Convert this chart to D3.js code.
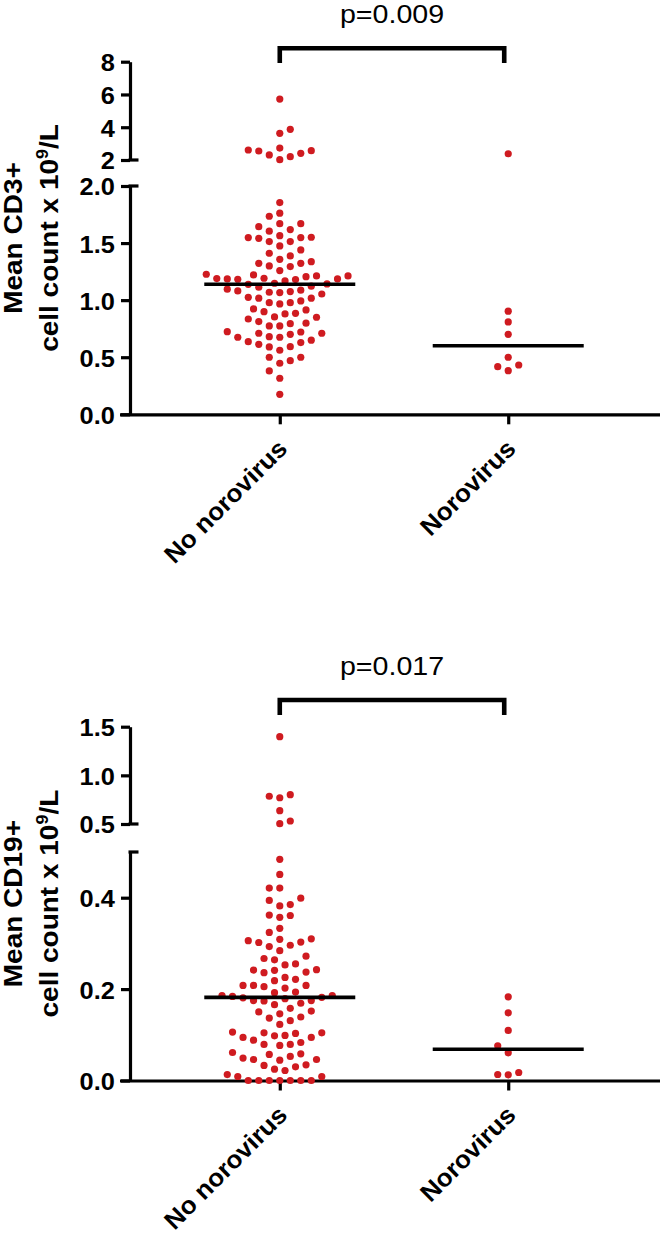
<!DOCTYPE html>
<html><head><meta charset="utf-8">
<script src="https://cdn.jsdelivr.net/npm/d3@7"></script>
<style>body{margin:0;background:#fff} svg{display:block}</style>
</head><body>
<script>
// ---------------- DATA ----------------
const categories = ["No norovirus", "Norovirus"];

// Mean CD3+ cell count x 10^9/L
const cd3NoNorovirus = [
  5.72, 3.63, 3.87, 2.61, 2.55, 2.31, 2.73, 2.02, 2.20, 2.41, 2.57,
  1.855, 1.735, 1.762, 1.670, 1.644, 1.670, 1.618, 1.565, 1.548, 1.542, 1.513, 1.513, 1.548, 1.551, 1.604,
  1.440, 1.411, 1.475, 1.387, 1.337, 1.323, 1.294, 1.300, 1.323, 1.358,
  1.259, 1.221, 1.212, 1.192, 1.186, 1.183, 1.180, 1.186, 1.189, 1.206,
  1.212, 1.227, 1.168, 1.148, 1.139, 1.113, 1.087, 1.075, 1.081, 1.096,
  1.122, 1.142, 1.066, 1.025, 1.017, 0.978, 0.978, 0.993, 1.017, 0.967,
  1.054, 1.069, 0.923, 0.899, 0.879, 0.885, 0.914, 0.850, 0.835, 0.798,
  0.774, 0.774, 0.794, 0.812, 0.853, 0.721, 0.710, 0.680, 0.675, 0.675,
  0.701, 0.710, 0.724, 0.636, 0.613, 0.590, 0.561, 0.592, 0.628, 0.649,
  0.500, 0.447, 0.470, 0.500, 0.380, 0.316, 0.175
];
const cd3Norovirus = [2.38, 0.903, 0.809, 0.701, 0.500, 0.432, 0.417, 0.382];

// Mean CD19+ cell count x 10^9/L
const cd19NoNorovirus = [
  1.397, 0.801, 0.770, 0.785, 0.637, 0.503, 0.531,
  0.484, 0.451, 0.421, 0.421, 0.394, 0.382, 0.385, 0.399, 0.361, 0.357, 0.362,
  0.324, 0.333, 0.309, 0.303, 0.296, 0.293, 0.302, 0.306, 0.310, 0.284,
  0.272, 0.264, 0.267, 0.253, 0.255,
  0.2417, 0.2373, 0.2359, 0.241, 0.2425, 0.2213, 0.2081, 0.2081, 0.2081, 0.2184, 0.2256,
  0.2023, 0.1921, 0.2052, 0.1935,
  0.179, 0.186, 0.175, 0.182, 0.169, 0.181, 0.184, 0.174, 0.186, 0.175,
  0.152, 0.146, 0.158, 0.166, 0.150, 0.1365, 0.131, 0.139, 0.1227,
  0.0978, 0.0942, 0.1044, 0.103, 0.1044, 0.0883, 0.1059, 0.0942, 0.0986,
  0.0832, 0.0789, 0.0767, 0.0789,
  0.0613, 0.057, 0.0445, 0.049, 0.046, 0.046, 0.0526, 0.0584,
  0.0329, 0.0248, 0.0219, 0.030, 0.0344,
  0.0088, 0.0, 0.0, 0.0, 0.0, 0.0, 0.0, 0.0, 0.0088, 0.013
];
const cd19Norovirus = [0.183, 0.148, 0.1095, 0.076, 0.0606, 0.0175, 0.0124, 0.0131];

const cd3PValue = "p=0.009";
const cd19PValue = "p=0.017";

const cd3UpperTicks = [2, 4, 6, 8];
const cd3LowerTicks = [0, 0.5, 1.0, 1.5, 2.0];
const cd19UpperTicks = [0.5, 1.0, 1.5];
const cd19LowerTicks = [0, 0.2, 0.4];

const cd3TitleMain = "Mean CD3+";
const cd19TitleMain = "Mean CD19+";
const titleUnitParts = ["cell count x 10", "9", "/L"];

// ---------------- LAYOUT / STYLE ----------------
const W = 664, H = 1234;
const RED = "#cf1b20";
const FONT = "'Liberation Sans', Arial, Helvetica, sans-serif";
const AXIS_X = 130, AXIS_END = 660;
const LW = 3.2;

const svg = d3.select("body").append("svg").attr("width", W).attr("height", H);

const panels = [
  {
    groups: [cd3NoNorovirus, cd3Norovirus], p: cd3PValue, title: cd3TitleMain,
    split: 2,
    lower: d3.scaleLinear().domain([0, 2]).range([414.3, 186]),
    upper: d3.scaleLinear().domain([2, 8]).range([160, 61.7]),
    lowerTicks: cd3LowerTicks, upperTicks: cd3UpperTicks,
    lowerFmt: d3.format(".1f"), upperFmt: d3.format("d"),
    bracketY: 48.3, bracketDrop: 63
  },
  {
    groups: [cd19NoNorovirus, cd19Norovirus], p: cd19PValue, title: cd19TitleMain,
    split: 0.5,
    lower: d3.scaleLinear().domain([0, 0.5]).range([1080.5, 852]),
    upper: d3.scaleLinear().domain([0.5, 1.5]).range([824, 726.7]),
    lowerTicks: cd19LowerTicks, upperTicks: cd19UpperTicks,
    lowerFmt: d3.format(".1f"), upperFmt: d3.format(".1f"),
    bracketY: 700, bracketDrop: 715
  }
];

const x = d3.scalePoint().domain(categories).range([AXIS_X - 1, AXIS_END - 1]).padding(0.66);

function stretchText(g, str, px, py, opts) {
  const t = g.append("text")
    .attr("transform", `translate(${px},${py}) rotate(${opts.rotate || 0}) scale(${opts.sx || 1},1)`)
    .attr("font-family", FONT)
    .attr("font-size", opts.size)
    .attr("font-weight", opts.weight || "bold")
    .attr("text-anchor", opts.anchor || "middle")
    .attr("fill", "#000");
  if (str != null) t.text(str);
  return t;
}

// deterministic beeswarm on a half-step grid, balanced left/right
function swarm(values, yf, cx) {
  const spacing = 10.5, half = spacing / 2, minDist = 10.2;
  const pts = values.map(v => ({ v, y: yf(v) })).sort((a, b) => b.y - a.y);
  const placed = [];
  let leftCount = 0, rightCount = 0;
  pts.forEach(p => {
    const free = off => placed.every(q => Math.hypot(q.off - off, q.y - p.y) >= minDist);
    for (let k = 0; k < 60; k++) {
      if (k === 0) { if (free(0)) { p.off = 0; break; } continue; }
      const first = leftCount <= rightCount ? -1 : 1;
      const a = first * k * half, b = -first * k * half;
      if (free(a)) { p.off = a; break; }
      if (free(b)) { p.off = b; break; }
    }
    if (p.off < 0) leftCount++; else if (p.off > 0) rightCount++;
    placed.push(p);
  });
  return pts.map(p => ({ v: p.v, cx: cx + p.off, cy: p.y }));
}

panels.forEach(P => {
  const g = svg.append("g");
  const yf = v => v > P.split ? P.upper(v) : P.lower(v);
  const axisY = P.lower.range()[0];

  const ua = g.append("g").attr("transform", `translate(${AXIS_X},0)`)
    .call(d3.axisLeft(P.upper).tickValues(P.upperTicks).tickSize(9).tickSizeOuter(0)
      .tickPadding(5).tickFormat(P.upperFmt));
  const la = g.append("g").attr("transform", `translate(${AXIS_X},0)`)
    .call(d3.axisLeft(P.lower).tickValues(P.lowerTicks).tickSize(9).tickSizeOuter(0)
      .tickPadding(5).tickFormat(P.lowerFmt));
  [ua, la].forEach(a => {
    a.selectAll(".domain").attr("stroke", "#000").attr("stroke-width", LW);
    a.selectAll(".tick line").attr("stroke", "#000").attr("stroke-width", LW);
    a.selectAll(".tick text").attr("font-family", FONT).attr("font-size", 23.5)
      .attr("font-weight", "bold").attr("fill", "#000")
      .attr("dy", "0.38em")
      .attr("transform", "scale(1.08,1)");
  });
  // break marks
  [P.upper(P.split), P.lower(P.split)].forEach(yy => {
    g.append("line").attr("x1", AXIS_X - 1.5).attr("x2", AXIS_X + 8.5)
      .attr("y1", yy).attr("y2", yy).attr("stroke", "#000").attr("stroke-width", LW);
  });

  // X axis
  const xa = g.append("g").attr("transform", `translate(0,${axisY})`)
    .call(d3.axisBottom(x).tickSize(10).tickSizeOuter(0).tickFormat(""));
  xa.selectAll(".domain").attr("stroke", "#000").attr("stroke-width", LW)
    .attr("d", `M${AXIS_X - 10},0.5H${AXIS_END}`);
  xa.selectAll(".tick line").attr("stroke", "#000").attr("stroke-width", LW);

  categories.forEach(c => {
    stretchText(g, c, x(c) + 9, axisY + 36, { size: 25, anchor: "end", rotate: -45, sx: 1.04 });
  });

  // Y title
  const yMid = (P.upper.range()[1] + axisY) / 2;
  stretchText(g, P.title, 21.5, yMid, { size: 25, rotate: -90, sx: 1.12 });
  const t2 = stretchText(g, null, 58, yMid, { size: 25, rotate: -90, sx: 1.12 });
  t2.append("tspan").text(titleUnitParts[0]);
  t2.append("tspan").attr("font-size", 16).attr("dy", -10).text(titleUnitParts[1]);
  t2.append("tspan").attr("dy", 10).text(titleUnitParts[2]);

  // points + median lines
  P.groups.forEach((vals, i) => {
    const cx = x(categories[i]);
    const pts = swarm(vals, yf, cx);
    g.append("g").selectAll("circle").data(pts).join("circle")
      .attr("cx", d => d.cx).attr("cy", d => d.cy).attr("r", 3.6).attr("fill", RED);
    const med = d3.median(vals);
    g.append("line").attr("x1", cx - 75.5).attr("x2", cx + 75.5)
      .attr("y1", yf(med)).attr("y2", yf(med))
      .attr("stroke", "#000").attr("stroke-width", 3.6);
  });

  // significance bracket
  const bx1 = x(categories[0]), bx2 = x(categories[1]) - 4;
  g.append("path")
    .attr("d", `M${bx1},${P.bracketDrop}V${P.bracketY}H${bx2}V${P.bracketDrop}`)
    .attr("fill", "none").attr("stroke", "#000").attr("stroke-width", 4.6)
    .attr("stroke-linejoin", "miter");
  stretchText(g, P.p, (bx1 + bx2) / 2, P.bracketY - 25.5, { size: 26, weight: "normal", sx: 1.1 });
});
</script>
</body></html>
